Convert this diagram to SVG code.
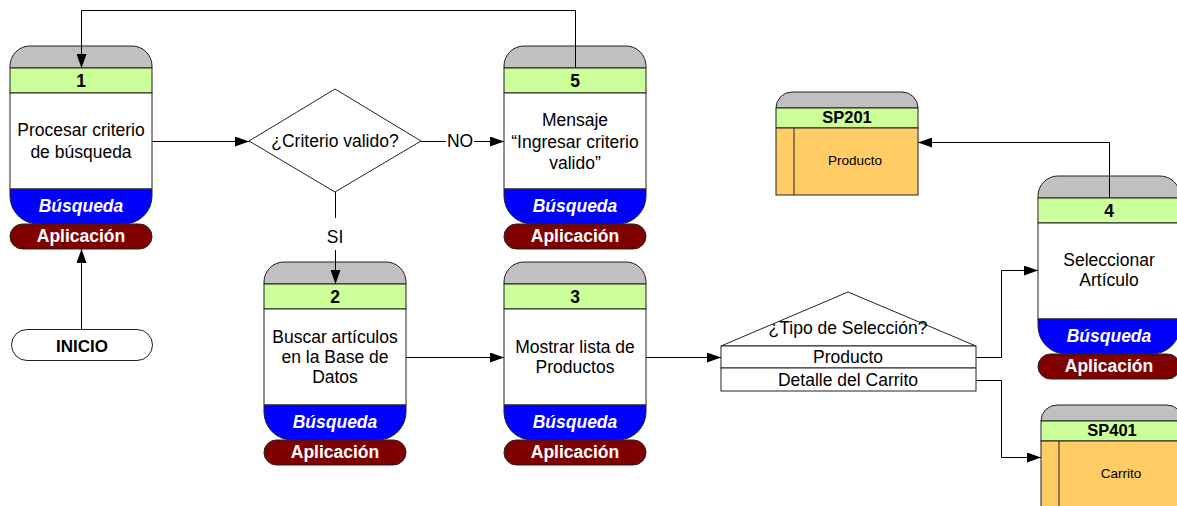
<svg xmlns="http://www.w3.org/2000/svg" xmlns:xlink="http://www.w3.org/1999/xlink" width="1177" height="506" viewBox="0 0 1177 506">
  <style>
    .ln { stroke: #222; stroke-width: 1; }
    .cap { fill: #c0c0c0; }
    .band { fill: #ccff99; }
    .body { fill: #ffffff; }
    .lane { fill: #0000ff; }
    .pill { fill: #800000; }
    .store { fill: #ffcc66; }
    text { font-family: "Liberation Sans", Arial, sans-serif; text-anchor: middle; }
    .t { font-size: 17.5px; fill: #000; }
    .num { font-size: 17.5px; font-weight: bold; fill: #000; }
    .bq { font-size: 17.5px; font-weight: bold; font-style: italic; fill: #fff; }
    .ap { font-size: 17.5px; font-weight: bold; fill: #fff; }
    .sm { font-size: 13.5px; fill: #000; }
    .sid { font-size: 16.5px; font-weight: bold; fill: #000; }
    .wire { fill: none; stroke: #000; stroke-width: 1; }
  </style>
  <defs>
    <marker id="arr" viewBox="0 0 14 10" refX="14" refY="5" markerWidth="14" markerHeight="10" markerUnits="userSpaceOnUse" orient="auto">
      <path d="M0,0 L14,5 L0,10 Z" fill="#000"/>
    </marker>
    <!-- process box: grey cap, number band, body, lane, application pill -->
    <g id="proc">
      <path class="cap ln" d="M0,22 V20 A20,20 0 0 1 20,0 H122 A20,20 0 0 1 142,20 V22 Z"/>
      <rect class="band ln" x="0" y="22" width="142" height="25"/>
      <rect class="body ln" x="0" y="47" width="142" height="96"/>
      <path class="lane ln" d="M0,143 H142 V150 A28,28 0 0 1 114,178 H28 A28,28 0 0 1 0,150 Z"/>
      <rect class="pill ln" x="0" y="178" width="142" height="25" rx="12.5"/>
      <text class="bq" x="71" y="166">Búsqueda</text>
      <text class="ap" x="71" y="196">Aplicación</text>
    </g>
    <!-- data store: grey cap, id band, orange body with side strip -->
    <g id="store">
      <path class="cap ln" d="M0,16 A16,16 0 0 1 16,0 H126 A16,16 0 0 1 142,16 Z"/>
      <rect class="band ln" x="0" y="16" width="142" height="20"/>
      <rect class="store ln" x="0" y="36" width="142" height="67"/>
      <line class="ln" x1="18" y1="36" x2="18" y2="103"/>
    </g>
  </defs>

  <g id="node-1" transform="translate(10,46)">
    <use xlink:href="#proc"/>
    <text class="num" x="71" y="41">1</text>
    <text class="t" x="71" y="90">Procesar criterio</text>
    <text class="t" x="71" y="112">de búsqueda</text>
  </g>

  <g id="node-5" transform="translate(504,46)">
    <use xlink:href="#proc"/>
    <text class="num" x="71" y="41">5</text>
    <text class="t" x="71" y="80">Mensaje</text>
    <text class="t" x="71" y="102">“Ingresar criterio</text>
    <text class="t" x="71" y="123">valido”</text>
  </g>

  <g id="node-2" transform="translate(264,262)">
    <use xlink:href="#proc"/>
    <text class="num" x="71" y="41">2</text>
    <text class="t" x="71" y="81">Buscar artículos</text>
    <text class="t" x="71" y="101">en la Base de</text>
    <text class="t" x="71" y="121">Datos</text>
  </g>

  <g id="node-3" transform="translate(504,262)">
    <use xlink:href="#proc"/>
    <text class="num" x="71" y="41">3</text>
    <text class="t" x="71" y="91">Mostrar lista de</text>
    <text class="t" x="71" y="111">Productos</text>
  </g>

  <g id="node-4" transform="translate(1038,176)">
    <use xlink:href="#proc"/>
    <text class="num" x="71" y="41">4</text>
    <text class="t" x="71" y="90">Seleccionar</text>
    <text class="t" x="71" y="110">Artículo</text>
  </g>

  <g id="inicio">
    <rect x="11.5" y="329.5" width="141" height="31" rx="15.5" fill="#fff" stroke="#222"/>
    <text x="82" y="351.5" style="font-size:17px;font-weight:bold">INICIO</text>
  </g>

  <g id="decision-criterio">
    <polygon points="335,89 421,141 335,192 249,141" fill="#fff" stroke="#222"/>
    <text class="t" x="335" y="147">¿Criterio valido?</text>
  </g>

  <g id="decision-tipo">
    <polygon points="848,292 976,346 721,346" fill="#fff" stroke="#222"/>
    <rect x="721" y="346" width="255" height="22" fill="#fff" stroke="#222"/>
    <rect x="721" y="368" width="255" height="23" fill="#fff" stroke="#222"/>
    <text class="t" x="848" y="334">¿Tipo de Selección?</text>
    <text class="t" x="848" y="363">Producto</text>
    <text class="t" x="848" y="386">Detalle del Carrito</text>
  </g>

  <g id="sp201" transform="translate(776,92)">
    <use xlink:href="#store"/>
    <text class="sid" x="71" y="31">SP201</text>
    <text class="sm" x="79" y="73">Producto</text>
  </g>

  <g id="sp401" transform="translate(1041,405)">
    <path class="cap ln" d="M0,16 A16,16 0 0 1 16,0 H126 A16,16 0 0 1 142,16 Z"/>
    <rect class="band ln" x="0" y="16" width="142" height="20"/>
    <rect class="store ln" x="0" y="36" width="142" height="80"/>
    <line class="ln" x1="18" y1="36" x2="18" y2="116"/>
    <text class="sid" x="71" y="31">SP401</text>
    <text class="sm" x="80" y="73">Carrito</text>
  </g>

  <g id="connectors">
    <path class="wire" d="M575.5,68 V10.5 H81.5 V68" marker-end="url(#arr)"/>
    <path class="wire" d="M152,141.5 H249" marker-end="url(#arr)"/>
    <path class="wire" d="M421,141.5 H446"/>
    <text class="t" x="460" y="147">NO</text>
    <path class="wire" d="M474,141.5 H504" marker-end="url(#arr)"/>
    <path class="wire" d="M335.5,192 V218"/>
    <text class="t" x="335" y="243">SI</text>
    <path class="wire" d="M335.5,250 V284" marker-end="url(#arr)"/>
    <path class="wire" d="M81.5,329 V249" marker-end="url(#arr)"/>
    <path class="wire" d="M406,357.5 H504" marker-end="url(#arr)"/>
    <path class="wire" d="M646,357.5 H721" marker-end="url(#arr)"/>
    <path class="wire" d="M976,357.5 H1001.5 V270.5 H1038" marker-end="url(#arr)"/>
    <path class="wire" d="M976,380.5 H1001.5 V457.5 H1041" marker-end="url(#arr)"/>
    <path class="wire" d="M1109.5,198 V142.5 H918" marker-end="url(#arr)"/>
  </g>
</svg>
